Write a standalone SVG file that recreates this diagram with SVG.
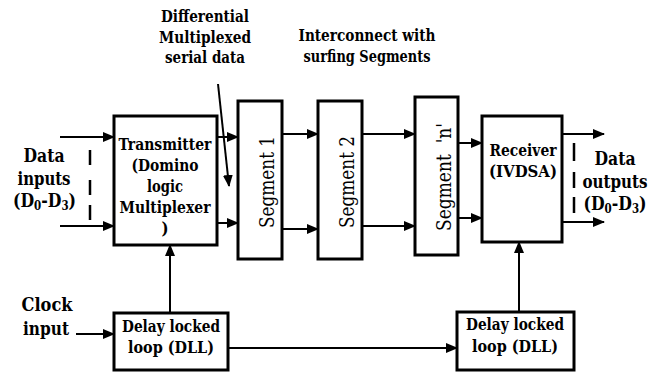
<svg xmlns="http://www.w3.org/2000/svg" width="664" height="372" viewBox="0 0 664 372">
  <style>
    .box { fill: #fff; stroke: #000; stroke-width: 3; }
    .wire { fill: none; stroke: #000; stroke-width: 2; }
    .dash { fill: none; stroke: #000; stroke-width: 2.5; }
    text { font-family: 'DejaVu Serif Condensed', 'DejaVu Serif', serif; font-weight: bold; fill: #000; text-anchor: middle; }
    .t18 { font-size: 16.5px; }
    .t20 { font-size: 18.4px; }
    .seg { font-size: 20.5px; font-weight: normal; }
    .sub { font-size: 12px; }
  </style>
  <defs>
    <marker id="arrow" markerUnits="userSpaceOnUse" markerWidth="12" markerHeight="10" refX="11" refY="5" orient="auto">
      <path d="M0,0 L12,5 L0,10 z" fill="#000"/>
    </marker>
  </defs>

  <!-- side and header labels -->
  <g id="labels">
    <text class="t20" x="44" y="162" textLength="41" lengthAdjust="spacingAndGlyphs">Data</text>
    <text class="t20" x="44" y="185" textLength="53" lengthAdjust="spacingAndGlyphs">inputs</text>
    <text class="t20" x="44.5" y="207" textLength="63" lengthAdjust="spacingAndGlyphs">(D<tspan class="sub" dy="3">0</tspan><tspan dy="-3">-D</tspan><tspan class="sub" dy="3">3</tspan><tspan dy="-3">)</tspan></text>

    <text class="t20" x="615" y="165" textLength="41" lengthAdjust="spacingAndGlyphs">Data</text>
    <text class="t20" x="615" y="188" textLength="65" lengthAdjust="spacingAndGlyphs">outputs</text>
    <text class="t20" x="615" y="210" textLength="63" lengthAdjust="spacingAndGlyphs">(D<tspan class="sub" dy="3">0</tspan><tspan dy="-3">-D</tspan><tspan class="sub" dy="3">3</tspan><tspan dy="-3">)</tspan></text>

    <text class="t18" x="205" y="22" textLength="88" lengthAdjust="spacingAndGlyphs">Differential</text>
    <text class="t18" x="205" y="43" textLength="92" lengthAdjust="spacingAndGlyphs">Multiplexed</text>
    <text class="t18" x="205" y="63" textLength="80" lengthAdjust="spacingAndGlyphs">serial data</text>

    <text class="t18" x="367" y="41" textLength="137" lengthAdjust="spacingAndGlyphs">Interconnect with</text>
    <text class="t18" x="367" y="62" textLength="127" lengthAdjust="spacingAndGlyphs">surfing Segments</text>

    <text class="t20" x="47" y="311" textLength="51" lengthAdjust="spacingAndGlyphs">Clock</text>
    <text class="t20" x="46" y="335" textLength="46" lengthAdjust="spacingAndGlyphs">input</text>

    <!-- parallel bus markers -->
    <path class="dash" d="M90,150 V165 M90,180 V195 M90,205 V220"/>
    <path class="dash" d="M574,143 V161 M574,172 V188 M574,197 V213"/>
  </g>

  <!-- connectors -->
  <g id="connectors">
    <line class="wire" x1="60" y1="137" x2="114" y2="137" marker-end="url(#arrow)"/>
    <line class="wire" x1="60" y1="226" x2="114" y2="226" marker-end="url(#arrow)"/>
    <line class="wire" x1="217" y1="137" x2="238" y2="137" marker-end="url(#arrow)"/>
    <line class="wire" x1="217" y1="223" x2="238" y2="223" marker-end="url(#arrow)"/>
    <line class="wire" x1="282" y1="134" x2="318" y2="134" marker-end="url(#arrow)"/>
    <line class="wire" x1="282" y1="229" x2="318" y2="229" marker-end="url(#arrow)"/>
    <line class="wire" x1="362" y1="134" x2="415" y2="134" marker-end="url(#arrow)"/>
    <line class="wire" x1="362" y1="226" x2="415" y2="226" marker-end="url(#arrow)"/>
    <line class="wire" x1="458" y1="143" x2="482" y2="143" marker-end="url(#arrow)"/>
    <line class="wire" x1="458" y1="218" x2="482" y2="218" marker-end="url(#arrow)"/>
    <line class="wire" x1="562" y1="134" x2="604" y2="134" marker-end="url(#arrow)"/>
    <line class="wire" x1="562" y1="222" x2="604" y2="222" marker-end="url(#arrow)"/>
    <line class="wire" x1="170" y1="313" x2="170" y2="245" marker-end="url(#arrow)"/>
    <line class="wire" x1="519" y1="312" x2="519" y2="242" marker-end="url(#arrow)"/>
    <line class="wire" x1="228" y1="348" x2="457" y2="348" marker-end="url(#arrow)"/>
    <line class="wire" x1="76" y1="334" x2="114" y2="334" marker-end="url(#arrow)"/>
    <line class="wire" x1="218" y1="84" x2="229" y2="186" marker-end="url(#arrow)"/>
  </g>

  <g id="transmitter">
    <rect class="box" x="114" y="116" width="103" height="129"/>
    <text class="t18" x="165" y="150" textLength="93" lengthAdjust="spacingAndGlyphs">Transmitter</text>
    <text class="t18" x="165" y="171" textLength="67" lengthAdjust="spacingAndGlyphs">(Domino</text>
    <text class="t18" x="165" y="192" textLength="36" lengthAdjust="spacingAndGlyphs">logic</text>
    <text class="t18" x="165" y="213" textLength="91" lengthAdjust="spacingAndGlyphs">Multiplexer</text>
    <text class="t18" x="165" y="234">)</text>
  </g>

  <g id="segment1">
    <rect class="box" x="238" y="101" width="44" height="158"/>
    <text class="seg" transform="translate(274,182) rotate(-90)" textLength="92" lengthAdjust="spacingAndGlyphs">Segment 1</text>
  </g>

  <g id="segment2">
    <rect class="box" x="318" y="101" width="44" height="158"/>
    <text class="seg" transform="translate(354,182) rotate(-90)" textLength="92" lengthAdjust="spacingAndGlyphs">Segment 2</text>
  </g>

  <g id="segmentN">
    <rect class="box" x="415" y="97" width="43" height="158"/>
    <text class="seg" transform="translate(451,177) rotate(-90)" xml:space="preserve" textLength="108" lengthAdjust="spacingAndGlyphs">Segment  'n'</text>
  </g>

  <g id="receiver">
    <rect class="box" x="482" y="116" width="80" height="126"/>
    <text class="t18" x="523" y="156" textLength="67" lengthAdjust="spacingAndGlyphs">Receiver</text>
    <text class="t18" x="523" y="177" textLength="68" lengthAdjust="spacingAndGlyphs">(IVDSA)</text>
  </g>

  <g id="dll-tx">
    <rect class="box" x="114" y="313" width="114" height="57"/>
    <text class="t18" x="171" y="332" textLength="98" lengthAdjust="spacingAndGlyphs">Delay locked</text>
    <text class="t18" x="171" y="353" textLength="86" lengthAdjust="spacingAndGlyphs">loop (DLL)</text>
  </g>

  <g id="dll-rx">
    <rect class="box" x="457" y="312" width="117" height="58"/>
    <text class="t18" x="515" y="330" textLength="98" lengthAdjust="spacingAndGlyphs">Delay locked</text>
    <text class="t18" x="515" y="352" textLength="86" lengthAdjust="spacingAndGlyphs">loop (DLL)</text>
  </g>
</svg>
